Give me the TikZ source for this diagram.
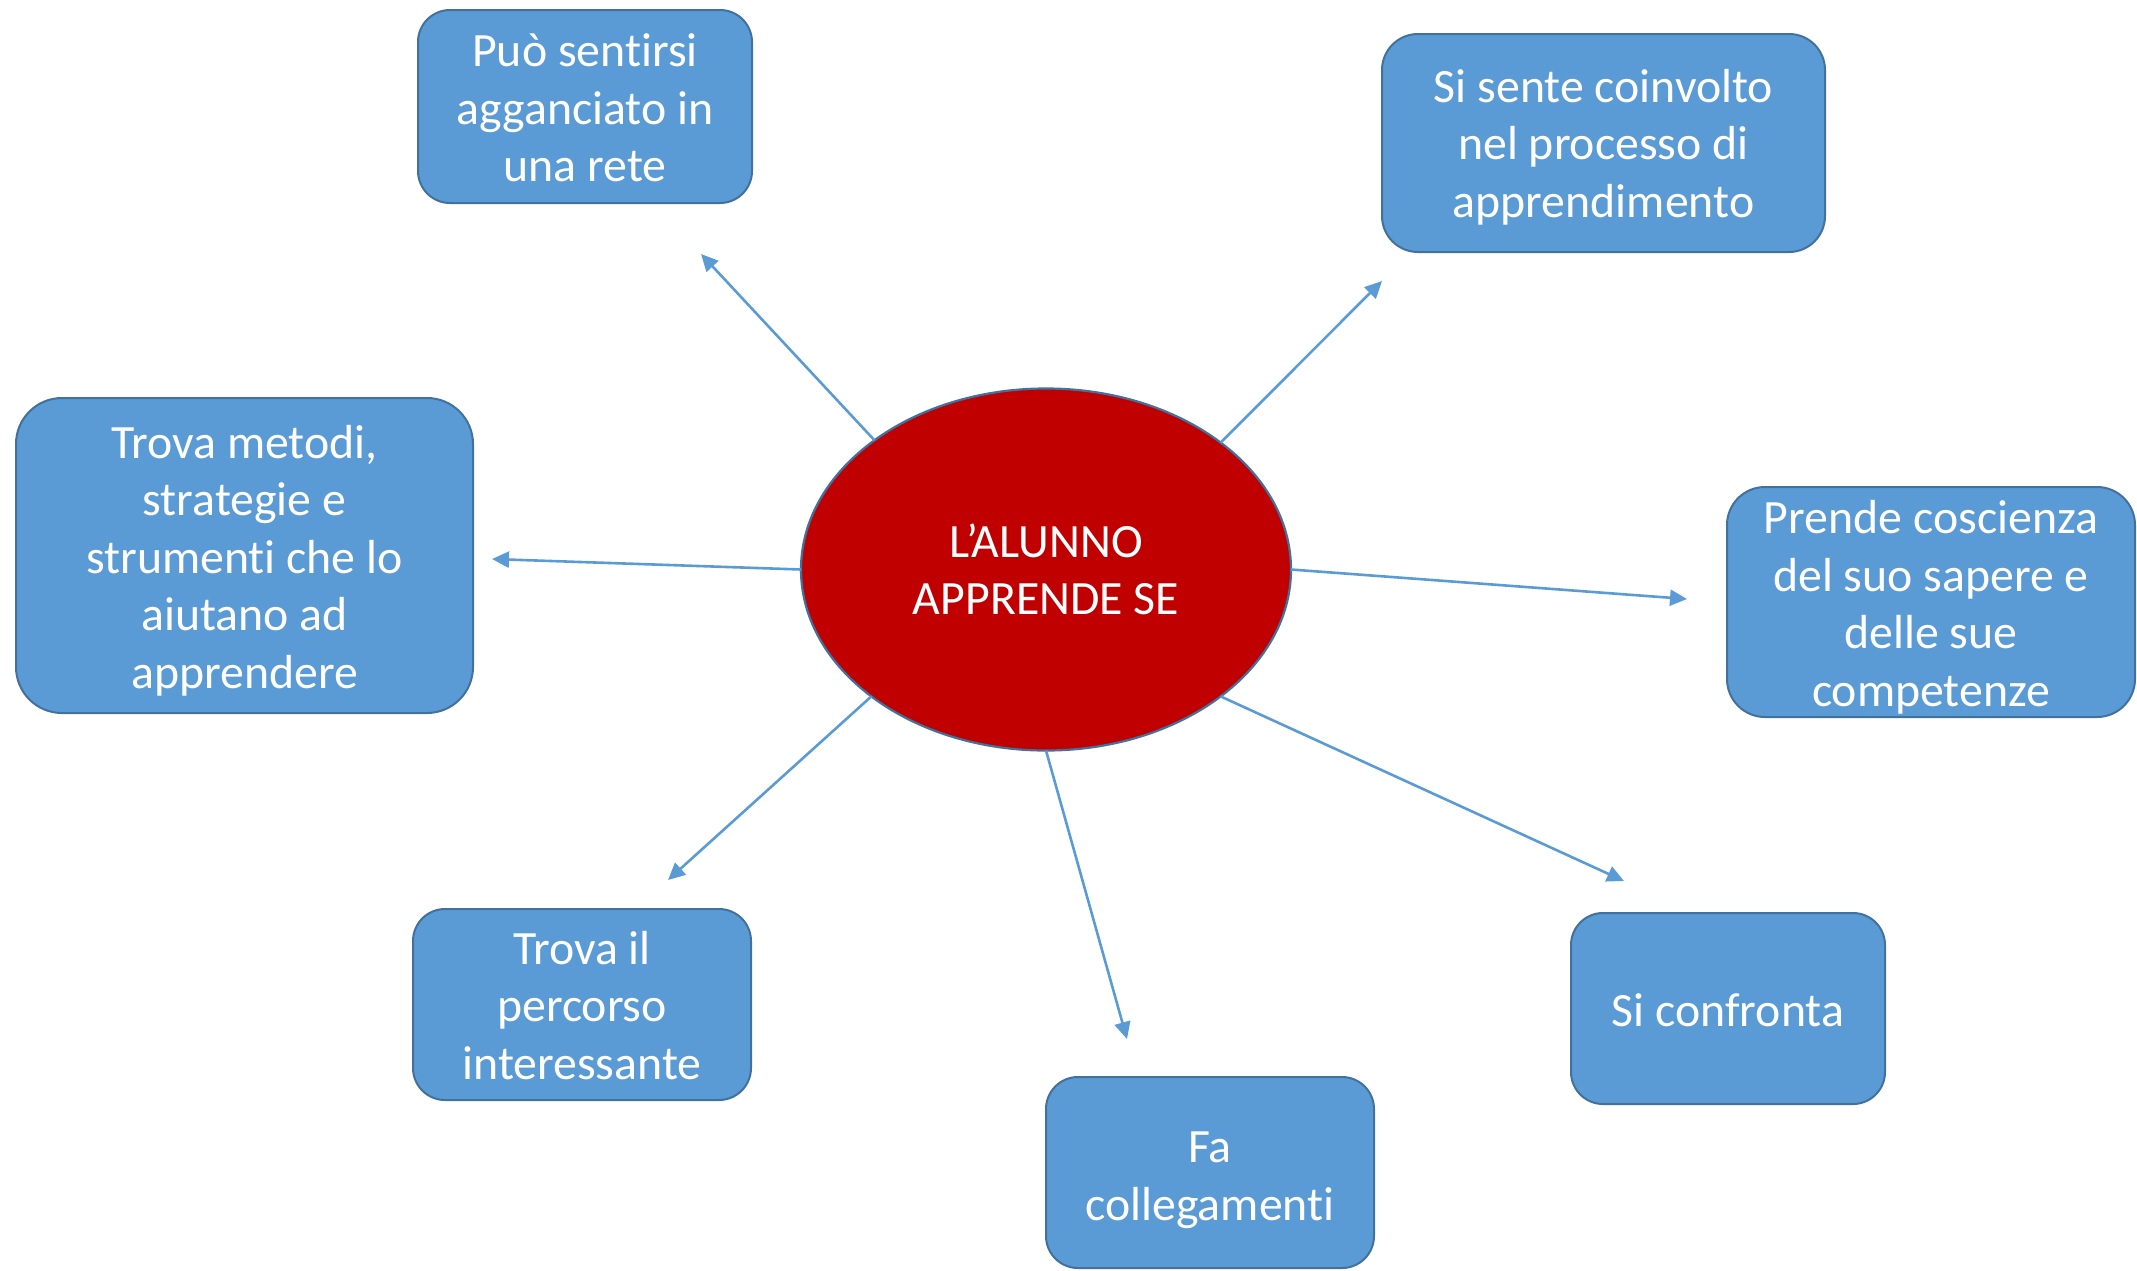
\documentclass[tikz,border=0pt]{standalone}
\usepackage{fontspec}
\setmainfont{Carlito}[Ligatures=NoCommon]
\usetikzlibrary{arrows.meta,shapes.geometric}
\definecolor{boxfill}{HTML}{5B9BD5}
\definecolor{boxline}{HTML}{41719C}
\definecolor{redfill}{HTML}{C00000}
\begin{document}
\begin{tikzpicture}[x=1pt,y=-1pt,
  box/.style={draw=boxline, line width=2pt, fill=boxfill, inner sep=0pt, outer sep=0pt},
  txt/.style={text=white, align=center, inner sep=0pt, font=\fontsize{47.8}{57.5}\selectfont},
  center/.style={ellipse, draw=boxline, line width=2.2pt, fill=redfill, text=white, align=center,
    inner sep=0pt, outer sep=0pt, font=\fontsize{47.8}{57.5}\selectfont},
  conn/.style={draw=boxfill, line width=2.6pt, -{Triangle[length=17pt,width=16pt]}}]
\useasboundingbox (0,0) rectangle (2137,1270);

\node[center, minimum width=490pt, minimum height=362pt] (c) at (1046,569.5) {L’ALUNNO\\APPRENDE SE};

\node[box, minimum width=334pt, minimum height=193pt, rounded corners=32pt] (b1) at (585,106.5) {};
\node[box, minimum width=443pt, minimum height=218pt, rounded corners=36pt] (b2) at (1603.5,143) {};
\node[box, minimum width=457pt, minimum height=315pt, rounded corners=46pt] (b3) at (244.5,555.5) {};
\node[box, minimum width=408pt, minimum height=230pt, rounded corners=38pt] (b4) at (1931,602) {};
\node[box, minimum width=338pt, minimum height=191pt, rounded corners=32pt] (b5) at (582,1004.5) {};
\node[box, minimum width=328pt, minimum height=191pt, rounded corners=32pt] (b6) at (1210,1172.5) {};
\node[box, minimum width=314pt, minimum height=191pt, rounded corners=32pt] (b7) at (1728,1008.5) {};

\node[txt, yshift=-1.5pt] (l1) at (b1.center) {Può sentirsi\\agganciato in\\una rete};
\node[txt, yshift=-4pt] (l2) at (b2.center) {Si sente coinvolto\\nel processo di\\apprendimento};
\node[txt, yshift=-5pt] (l3) at (b3.center) {Trova metodi,\\strategie e\\strumenti che lo\\aiutano ad\\apprendere};
\node[txt, yshift=-5pt] (l4) at (b4.center) {Prende coscienza\\del suo sapere e\\delle sue\\competenze};
\node[txt, yshift=-1pt] (l5) at (b5.center) {Trova il\\percorso\\interessante};
\node[txt, yshift=-8pt] (l6) at (b6.center) {Fa\\collegamenti};
\node[txt, yshift=-1.5pt] (l7) at (b7.center) {Si confronta};

\coordinate (t1) at (701,254);
\coordinate (t2) at (1382,281);
\coordinate (t3) at (492,559);
\coordinate (t4) at (1687,599);
\coordinate (t5) at (668,880);
\coordinate (t6) at (1127,1039);
\coordinate (t7) at (1624,881);

\draw[conn] (c.143.5) -- (t1);
\draw[conn] (c.36.5) -- (t2);
\draw[conn] (c.180) -- (t3);
\draw[conn] (c.0) -- (t4);
\draw[conn] (c.216.5) -- (t5);
\draw[conn] (c.270) -- (t6);
\draw[conn] (c.-36.5) -- (t7);
\end{tikzpicture}
\end{document}
